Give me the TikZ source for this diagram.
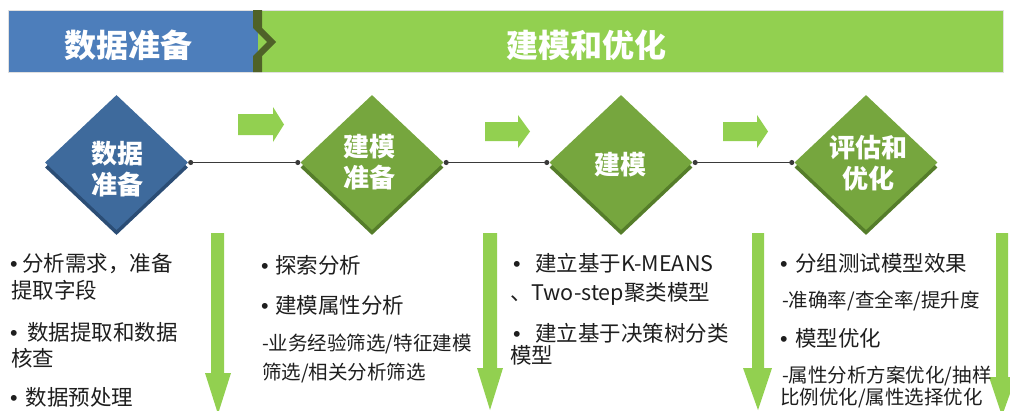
\documentclass[tikz,border=0pt]{standalone}
\usepackage{fontspec}
\setmainfont{Noto Sans CJK SC}
\newfontfamily\bulfont{Liberation Sans}
\newcommand\bl[1]{{\bulfont •}\hspace{#1}}
\usetikzlibrary{shapes.geometric,arrows.meta}
\definecolor{hblue}{HTML}{4D7EBB}
\definecolor{hgreen}{HTML}{92D050}
\definecolor{hdark}{HTML}{4F6228}
\definecolor{dblue}{HTML}{3E6A9C}
\definecolor{dblueS}{HTML}{2B4D75}
\definecolor{dgreen}{HTML}{76A63E}
\definecolor{dgreenS}{HTML}{557D2A}
\definecolor{agreen}{HTML}{92D050}
\definecolor{txt}{HTML}{1E1E1E}
\definecolor{lnk}{HTML}{3A3A3A}
\tikzset{
  htext/.style={text=white,font=\fontsize{32}{36}\selectfont\bfseries,inner sep=0pt},
  dia/.style={diamond,aspect=1,minimum width=143pt,minimum height=135pt,inner sep=0pt},
  dtext/.style={text=white,font=\fontsize{26}{31}\selectfont\bfseries,align=center,inner sep=0pt},
  btext/.style={text=txt,font=\fontsize{21.5}{24}\selectfont,anchor=base west,inner sep=0pt},
  stext/.style={text=txt,font=\fontsize{19.5}{22}\selectfont,anchor=base west,inner sep=0pt},
  link/.style={draw=lnk,line width=0.9pt,{Circle[length=5pt]}-{Circle[length=5pt]}},
  arr/.style={fill=agreen}
}
\begin{document}
\begin{tikzpicture}[x=1pt,y=-1pt]
\useasboundingbox (0,0) rectangle (1010,410);
\clip (0,0) rectangle (1010,410);
% header bar
\fill[hgreen] (258,10) rectangle (1003,72);
\fill[hblue] (8,10) rectangle (258,72);
\draw[black!12,line width=0.6pt] (8,10) rectangle (1003,72);
\fill[hdark] (253,10) -- (262,10) -- (262,28) -- (276,42) -- (262,56) -- (262,72) -- (253,72) -- (253,56) -- (267,42) -- (253,28) -- cycle;
\node[htext] (h1) at (128,45) {数据准备};
\node[htext] (h2) at (586,45) {建模和优化};
% right arrows
\fill[arr] (238,114) -- ++(35,0) -- ++(0,-7) -- ++(11,17.5) -- ++(-11,17.5) -- ++(0,-7) -- ++(-35,0) -- cycle;
\fill[arr] (485,122) -- ++(33,0) -- ++(0,-7) -- ++(12,16.5) -- ++(-12,16.5) -- ++(0,-7) -- ++(-33,0) -- cycle;
\fill[arr] (723,122) -- ++(34,0) -- ++(0,-7) -- ++(11,16.5) -- ++(-11,16.5) -- ++(0,-7) -- ++(-34,0) -- cycle;
% down arrows
\fill[arr] (211,233) -- (224,233) -- (224,373) -- (231,373) -- (218,414) -- (205,373) -- (211,373) -- cycle;
\fill[arr] (483,233) -- (497,233) -- (497,368) -- (503,368) -- (490,410) -- (477,368) -- (483,368) -- cycle;
\fill[arr] (752,233) -- (764,233) -- (764,368) -- (772,368) -- (758,410) -- (743,368) -- (752,368) -- cycle;
\fill[arr] (996,233) -- (1008,233) -- (1008,377) -- (1016,377) -- (1002,416) -- (989,377) -- (996,377) -- cycle;
% diamonds with bevel
\node[dia,fill=dblueS] (d1s) at (116.5,167.5) {};
\node[dia,fill=dblue] (d1) at (116.5,162.5) {};
\node[dia,fill=dgreenS] (d2s) at (372,167.5) {};
\node[dia,fill=dgreen] (d2) at (372,162.5) {};
\node[dia,fill=dgreenS] (d3s) at (621,167.5) {};
\node[dia,fill=dgreen] (d3) at (621,162.5) {};
\node[dia,fill=dgreenS] (d4s) at (866,167.5) {};
\node[dia,fill=dgreen] (d4) at (866,162.5) {};
\node[dtext] (t1) at (117,169) {数据\\准备};
\node[dtext] (t2) at (369,162) {建模\\准备};
\node[dtext] (t3) at (620,165) {建模};
\node[dtext] (t4) at (868,163) {评估和\\优化};
% links
\draw[link] (d1.east) -- (d2.west);
\draw[link] (d2.east) -- (d3.west);
\draw[link] (d3.east) -- (d4.west);
% column 1
\node[btext] (c11) at (10,271) {\bl{4.5pt}分析需求，准备};
\node[btext] (c12) at (11,298) {提取字段};
\node[btext] (c13) at (10,340) {\bl{9.5pt}数据提取和数据};
\node[btext] (c14) at (11,366) {核查};
\node[btext] (c15) at (10,405) {\bl{8pt}数据预处理};
% column 2
\node[btext] (c21) at (261,273) {\bl{6.5pt}探索分析};
\node[btext] (c22) at (261,313) {\bl{6.5pt}建模属性分析};
\node[stext] (c23) at (262,350) {-业务经验筛选/特征建模};
\node[stext] (c24) at (262,379) {筛选/相关分析筛选};
% column 3
\node[btext] (c31) at (513,271) {\bl{14.5pt}建立基于K-MEANS};
\node[btext] (c32) at (510,300) {、Two-step聚类模型};
\node[btext] (c33) at (513,341) {\bl{14.5pt}建立基于决策树分类};
\node[btext] (c34) at (510,363) {模型};
% column 4
\node[btext] (c41) at (780,271) {\bl{7.5pt}分组测试模型效果};
\node[stext] (c42) at (782,307) {-准确率/查全率/提升度};
\node[btext] (c43) at (780,346) {\bl{7.5pt}模型优化};
\node[stext] (c44) at (782,382) {-属性分析方案优化/抽样};
\node[stext] (c45) at (780,404) {比例优化/属性选择优化};
\end{tikzpicture}
\end{document}
